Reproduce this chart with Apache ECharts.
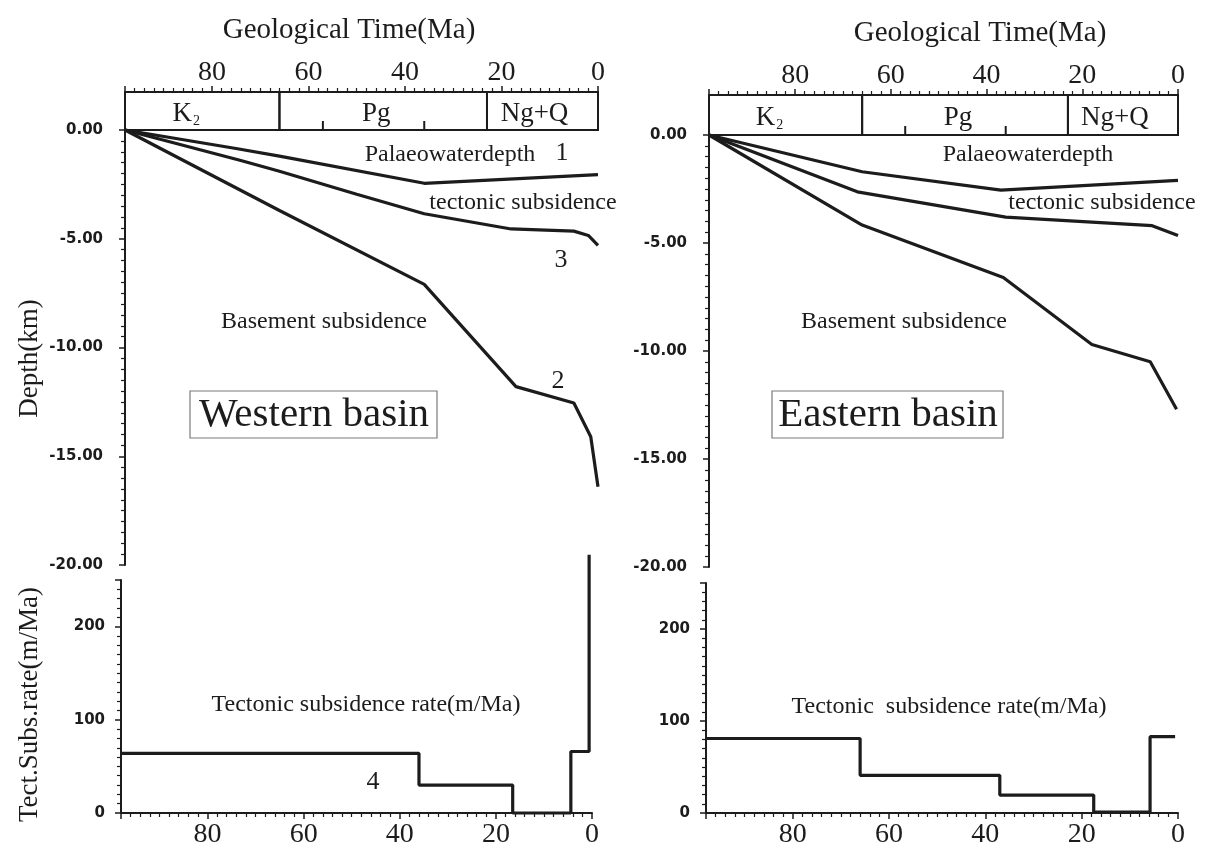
<!DOCTYPE html>
<html><head><meta charset="utf-8">
<script src="https://cdn.jsdelivr.net/npm/echarts@6/dist/echarts.min.js"></script>
<style>html,body{margin:0;padding:0;background:#fff}#c{width:1210px;height:849px}</style>
</head><body><div id="c"></div>
<script>
// ---- data ----
const timeTickLabels = [80, 60, 40, 20, 0];
const periodNames = ['K', 'Pg', 'Ng+Q'];
const periodSubs = ['2', '', ''];
const periodStart = [98, 66, 23];
const periodEnd = [66, 23, 0];
const epochTicks = [57, 36];

// Western basin (Ma, km)
const westWaterAge = [98, 75, 66, 36, 0];
const westWater = [0, -0.85, -1.2, -2.45, -2.05];
const westTectAge = [98, 74, 66, 50, 36, 18, 5, 2, 0];
const westTect = [0, -1.4, -1.9, -2.95, -3.85, -4.55, -4.65, -4.85, -5.3];
const westBaseAge = [98, 66, 36, 17, 5, 1.5, 0];
const westBase = [0, -3.7, -7.1, -11.8, -12.55, -14.1, -16.4];
// Western subsidence rate (m/Ma): boundaries (Ma) and rates
const westRateBounds = [98, 36, 16.5, 4.4, 0.6, 0.6];
const westRate = [64, 30, 0, 66, 277];

// Eastern basin
const eastWaterAge = [98, 66, 37, 0];
const eastWater = [0, -1.7, -2.55, -2.1];
const eastTectAge = [98, 67, 36, 5.4, 0];
const eastTect = [0, -2.63, -3.8, -4.2, -4.65];
const eastBaseAge = [98, 66, 36.5, 18, 5.8, 0.3];
const eastBase = [0, -4.17, -6.6, -9.7, -10.5, -12.7];
const eastRateBounds = [98, 66, 37, 17.5, 5.8, 0.6];
const eastRate = [81, 41, 19.5, 1, 83];

// ---- helpers ----
const zip = (a, b) => a.map((v, i) => [v, b[i]]);
const steps = (bounds, rates) => {
  const out = [];
  rates.forEach((r, i) => { out.push([bounds[i], r]); out.push([bounds[i + 1], r]); });
  return out;
};
const SERIF = '"Liberation Serif", "Times New Roman", serif';
const SANS = '"DejaVu Sans", sans-serif';
const INK = '#1c1c1c';
const periodLabelShift = [-16, -7, -8]; // px, label placement inside period cells

function timeAxis(grid, pos, show) {
  return {
    type: 'value', gridIndex: grid, position: pos, min: 0, max: 98, inverse: true, interval: 20,
    show: show,
    axisLine: { show: true, onZero: false, lineStyle: { color: INK, width: 2 } },
    axisTick: { show: true, length: 6, inside: false, lineStyle: { color: INK, width: 1.5 } },
    minorTick: { show: true, splitNumber: 10, length: 4, lineStyle: { color: INK, width: 1.2 } },
    splitLine: { show: false },
    axisLabel: {
      fontFamily: SERIF, fontSize: 28, color: INK, margin: pos === 'top' ? 5 : 8,
      formatter: v => (timeTickLabels.indexOf(v) >= 0 ? String(v) : '')
    }
  };
}
function depthAxis(grid, name) {
  return {
    type: 'value', gridIndex: grid, min: -20, max: 0, interval: 5,
    name: name, nameLocation: 'middle', nameGap: 82, nameRotate: 90,
    nameTextStyle: { fontFamily: SERIF, fontSize: 27, color: INK, padding: [0, 22, 0, 0] },
    axisLine: { show: true, onZero: false, lineStyle: { color: INK, width: 2 } },
    axisTick: { show: true, length: 6, lineStyle: { color: INK, width: 1.5 } },
    minorTick: { show: true, splitNumber: 10, length: 4, lineStyle: { color: INK, width: 1.2 } },
    splitLine: { show: false },
    axisLabel: { fontFamily: SANS, fontWeight: 'bold', fontSize: 15, color: INK, margin: 22,
      formatter: v => v.toFixed(2) }
  };
}
function rateAxis(grid, name) {
  return {
    type: 'value', gridIndex: grid, min: 0, max: 250, interval: 100,
    name: name, nameLocation: 'middle', nameGap: 78, nameRotate: 90,
    nameTextStyle: { fontFamily: SERIF, fontSize: 27, color: INK, padding: [0, 16, 0, 0] },
    axisLine: { show: true, onZero: false, lineStyle: { color: INK, width: 2 } },
    axisTick: { show: true, length: 6, lineStyle: { color: INK, width: 1.5 } },
    minorTick: { show: true, splitNumber: 10, length: 4, lineStyle: { color: INK, width: 1.2 } },
    splitLine: { show: false },
    axisLabel: { fontFamily: SANS, fontWeight: 'bold', fontSize: 15, color: INK, margin: 16,
      formatter: v => (v % 100 === 0 ? String(v) : '') }
  };
}
function boxYAxis(grid) {
  return { type: 'value', gridIndex: grid, min: 0, max: 1, show: false,
    axisLine: { onZero: false } };
}
function periodSeries(xi, yi) {
  return {
    type: 'custom', xAxisIndex: xi, yAxisIndex: yi, silent: true,
    data: periodNames.map((n, i) => [periodStart[i], periodEnd[i], i]),
    renderItem: (params, api) => {
      const i = api.value(2);
      const p0 = api.coord([api.value(0), 1]);
      const p1 = api.coord([api.value(1), 0]);
      const sub = periodSubs[i];
      return {
        type: 'group', children: [
          { type: 'rect', shape: { x: p0[0], y: p0[1], width: p1[0] - p0[0], height: p1[1] - p0[1] },
            style: { fill: 'none', stroke: INK, lineWidth: 2 } },
          { type: 'text', x: (p0[0] + p1[0]) / 2 + periodLabelShift[i], y: (p0[1] + p1[1]) / 2 + 3,
            style: {
              text: '{m|' + periodNames[i] + '}' + (sub ? '{s|' + sub + '}' : ''),
              align: 'center', verticalAlign: 'middle',
              rich: {
                m: { fontFamily: SERIF, fontSize: 27, fill: INK, color: INK },
                s: { fontFamily: SERIF, fontSize: 14, fill: INK, color: INK, padding: [14, 0, 0, 1] }
              }
            } }
        ]
      };
    }
  };
}
function epochSeries(xi, yi) {
  return {
    type: 'custom', xAxisIndex: xi, yAxisIndex: yi, silent: true,
    data: epochTicks.map(t => [t]),
    renderItem: (params, api) => {
      const p = api.coord([api.value(0), 0]);
      return { type: 'line', shape: { x1: p[0], y1: p[1], x2: p[0], y2: p[1] - 9 },
        style: { stroke: INK, lineWidth: 2 } };
    }
  };
}
function curve(xi, yi, data) {
  return { type: 'line', xAxisIndex: xi, yAxisIndex: yi, data: data, symbol: 'none', clip: false,
    lineStyle: { color: INK, width: 3.2 }, silent: true };
}

function txt(x, y, text, size, extra) {
  return Object.assign({ type: 'text', x: x, y: y, silent: true,
    style: { text: text, font: size + 'px ' + SERIF, fill: INK, textAlign: 'center', textVerticalAlign: 'middle' } }, extra || {});
}

const option = {
  backgroundColor: '#ffffff',
  animation: false,
  grid: [
    { left: 125, top: 92, width: 473, height: 38 },
    { left: 125, top: 130, width: 473, height: 435 },
    { left: 121, top: 580, width: 471, height: 235 },
    { left: 709, top: 95, width: 469, height: 40 },
    { left: 709, top: 135, width: 469, height: 432 },
    { left: 706, top: 583, width: 472, height: 234 }
  ],
  xAxis: [
    timeAxis(0, 'top', true),
    timeAxis(1, 'top', false),
    timeAxis(2, 'bottom', true),
    timeAxis(3, 'top', true),
    timeAxis(4, 'top', false),
    timeAxis(5, 'bottom', true)
  ],
  yAxis: [
    boxYAxis(0),
    depthAxis(1, 'Depth(km)'),
    rateAxis(2, 'Tect.Subs.rate(m/Ma)'),
    boxYAxis(3),
    depthAxis(4, ''),
    rateAxis(5, '')
  ],
  series: [
    periodSeries(0, 0), epochSeries(0, 0),
    curve(1, 1, zip(westWaterAge, westWater)),
    curve(1, 1, zip(westTectAge, westTect)),
    curve(1, 1, zip(westBaseAge, westBase)),
    curve(2, 2, steps(westRateBounds, westRate)),
    periodSeries(3, 3), epochSeries(3, 3),
    curve(4, 4, zip(eastWaterAge, eastWater)),
    curve(4, 4, zip(eastTectAge, eastTect)),
    curve(4, 4, zip(eastBaseAge, eastBase)),
    curve(5, 5, steps(eastRateBounds, eastRate))
  ],
  graphic: [
    txt(349, 30, 'Geological Time(Ma)', 29),
    txt(450, 155, 'Palaeowaterdepth', 24),
    txt(562, 153, '1', 26),
    txt(523, 203, 'tectonic subsidence', 24),
    txt(561, 260, '3', 26),
    txt(324, 322, 'Basement subsidence', 24),
    txt(558, 381, '2', 26),
    { type: 'rect', shape: { x: 190, y: 391, width: 247, height: 47 }, silent: true,
      style: { fill: 'none', stroke: '#7a7a7a', lineWidth: 1.2 } },
    txt(314, 415, 'Western basin', 41),
    txt(366, 705, 'Tectonic subsidence rate(m/Ma)', 24),
    txt(373, 782, '4', 26),

    txt(980, 33, 'Geological Time(Ma)', 29),
    txt(1028, 155, 'Palaeowaterdepth', 24),
    txt(1102, 203, 'tectonic subsidence', 24),
    txt(904, 322, 'Basement subsidence', 24),
    { type: 'rect', shape: { x: 772, y: 391, width: 231, height: 47 }, silent: true,
      style: { fill: 'none', stroke: '#7a7a7a', lineWidth: 1.2 } },
    txt(888, 415, 'Eastern basin', 41),
    txt(949, 707, 'Tectonic  subsidence rate(m/Ma)', 24)
  ]
};

const chart = echarts.init(document.getElementById('c'), null, { renderer: 'canvas' });
chart.setOption(option);
</script>
</body></html>
